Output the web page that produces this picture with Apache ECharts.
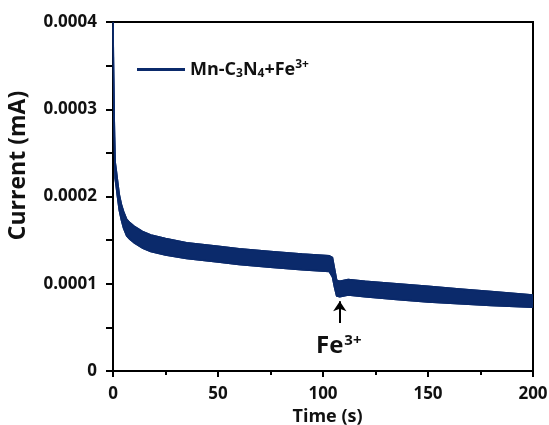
<!DOCTYPE html>
<html>
<head>
<meta charset="utf-8">
<script src="https://cdn.jsdelivr.net/npm/echarts@6/dist/echarts.min.js"></script>
<style>
html,body{margin:0;padding:0;background:#fff;}
#chart{width:549px;height:425px;}
</style>
</head>
<body>
<div id="chart"></div>
<script>
// Time (s)
var timeS = [0, 0.3, 0.6, 1, 1.5, 2, 3, 4, 5, 6.5, 8, 10, 14, 18, 25, 35, 50, 60, 75, 90, 103, 104.5, 105.5, 106.5, 108, 112, 120, 135, 150, 165, 180, 200];
// Upper edge of the noisy current band (mA)
var currentUpper = [0.000400, 0.000337, 0.000287, 0.000240, 0.000231, 0.000221, 0.000202, 0.000191, 0.000183, 0.000174, 0.000170, 0.000166, 0.000160, 0.000156, 0.000152, 0.000147, 0.000143, 0.000140, 0.000137, 0.000134, 0.000132, 0.000130, 0.000117, 0.000104, 0.000103, 0.000105, 0.000103, 0.000100, 0.000097, 0.000094, 0.000091, 0.000087];
// Lower edge of the noisy current band (mA)
var currentLower = [0.000394, 0.000320, 0.000270, 0.000221, 0.000212, 0.000202, 0.000184, 0.000173, 0.000164, 0.000155, 0.000151, 0.000147, 0.000141, 0.000137, 0.000133, 0.000129, 0.000125, 0.000122, 0.000119, 0.000116, 0.000114, 0.000108, 0.000096, 0.000086, 0.000085, 0.000087, 0.000085, 0.000082, 0.000079, 0.000077, 0.000075, 0.000073];
var xTicks = [0, 50, 100, 150, 200];
var yTicks = [0, 0.0001, 0.0002, 0.0003, 0.0004];
var seriesName = 'Mn-C3N4+Fe3+';
var arrowTime = 108;
var arrowFrom = 0.000055, arrowTo = 0.000080;
var labelValue = 0.000029;

var navy = '#0b2a6b';
var FONT = '"Open Sans", "DejaVu Sans", sans-serif';

var upperData = timeS.map(function (t, i) { return [t, currentUpper[i]]; });
var lowerData = timeS.map(function (t, i) { return [t, currentLower[i]]; });

function renderBand(params, api) {
  var pts = [];
  for (var i = 0; i < timeS.length; i++) pts.push(api.coord([timeS[i], currentUpper[i]]));
  for (var j = timeS.length - 1; j >= 0; j--) pts.push(api.coord([timeS[j], currentLower[j]]));
  return {
    type: 'polygon',
    shape: { points: pts },
    style: { fill: navy, stroke: navy, lineWidth: 1.5 }
  };
}

var chart = echarts.init(document.getElementById('chart'));
chart.setOption({
  animation: false,
  backgroundColor: '#fff',
  grid: { left: 113, right: 16, top: 22, bottom: 54, containLabel: false, outerBoundsMode: 'none', show: true, borderColor: '#000', borderWidth: 2, backgroundColor: 'transparent' },
  legend: {
    data: [{ name: seriesName, icon: 'rect', itemStyle: { color: navy } }],
    left: 137, top: 59, padding: 0,
    itemWidth: 48, itemHeight: 3, itemGap: 6,
    formatter: function () { return '{t|Mn-C}{s|3}{t|N}{s|4}{t|+Fe}{p|3+}'; },
    textStyle: {
      fontFamily: FONT, fontWeight: 'bold', fontSize: 18, color: '#111', padding: [0, 0, 0, 0],
      rich: {
        t: { fontFamily: FONT, fontWeight: 'bold', fontSize: 18, color: '#111' },
        s: { fontFamily: FONT, fontWeight: 'bold', fontSize: 12, color: '#111', verticalAlign: 'bottom', padding: [9, 0, 0, 0] },
        p: { fontFamily: FONT, fontWeight: 'bold', fontSize: 12, color: '#111', verticalAlign: 'top', padding: [0, 0, 9, 0] }
      }
    }
  },
  xAxis: {
    type: 'value', min: 0, max: 200, interval: 50,
    name: 'Time (s)', nameLocation: 'middle', nameGap: 31,
    nameTextStyle: { fontFamily: FONT, fontWeight: 'bold', fontSize: 18, color: '#111', padding: [0, 0, 0, 9] },
    axisLine: { show: true, onZero: false, lineStyle: { color: '#000', width: 2 } },
    axisTick: { show: true, inside: false, length: 6, lineStyle: { color: '#000', width: 2 } },
    minorTick: { show: true, splitNumber: 2, length: 4, lineStyle: { color: '#000', width: 2 } },
    splitLine: { show: false },
    axisLabel: {
      margin: 15, fontFamily: FONT, fontWeight: 'bold', fontSize: 17, color: '#111',
      formatter: function (v) { return xTicks.indexOf(v) >= 0 ? String(v) : ''; }
    }
  },
  yAxis: {
    type: 'value', min: 0, max: 0.0004, interval: 0.0001,
    name: 'Current (mA)', nameLocation: 'middle', nameGap: 83, nameRotate: 90,
    nameTextStyle: { fontFamily: FONT, fontWeight: 'bold', fontSize: 23, color: '#111', padding: [0, 0, 0, 62] },
    axisLine: { show: true, onZero: false, lineStyle: { color: '#000', width: 2 } },
    axisTick: { show: true, inside: false, length: 7, lineStyle: { color: '#000', width: 2 } },
    minorTick: { show: true, splitNumber: 2, length: 7, lineStyle: { color: '#000', width: 2 } },
    splitLine: { show: false },
    axisLabel: {
      margin: 16, fontFamily: FONT, fontWeight: 'bold', fontSize: 17, color: '#111',
      formatter: function (v) {
        for (var i = 0; i < yTicks.length; i++) {
          if (Math.abs(v - yTicks[i]) < 1e-9) return yTicks[i] === 0 ? '0' : yTicks[i].toFixed(4);
        }
        return '';
      }
    }
  },
  series: [
    {
      name: 'band', type: 'custom', silent: true, clip: true,
      data: [[0, 0]],
      renderItem: renderBand, z: 3
    },
    {
      name: seriesName, type: 'line', data: upperData,
      showSymbol: false, symbol: 'none',
      itemStyle: { color: navy },
      lineStyle: { color: navy, width: 1.5 }, z: 3,
      markLine: {
        silent: true, symbol: ['none', 'arrow'], symbolSize: [10, 10],
        lineStyle: { color: '#000', width: 2, type: 'solid' },
        label: { show: false },
        data: [[{ coord: [arrowTime, arrowFrom] }, { coord: [arrowTime, arrowTo] }]]
      },
      markPoint: {
        silent: true, symbol: 'circle', symbolSize: 0,
        data: [{ coord: [arrowTime - 0.5, labelValue] }],
        label: {
          show: true, position: 'inside',
          formatter: '{f|Fe}{p|3+}',
          rich: {
            f: { fontFamily: FONT, fontWeight: 'bold', fontSize: 24, color: '#111' },
            p: { fontFamily: FONT, fontWeight: 'bold', fontSize: 15, color: '#111', verticalAlign: 'top', padding: [0, 0, 10, 1] }
          }
        }
      }
    },
    {
      name: 'lowerEdge', type: 'line', data: lowerData,
      showSymbol: false, symbol: 'none', silent: true,
      lineStyle: { color: navy, width: 1.5 }, z: 3
    }
  ]
});
</script>
</body>
</html>
